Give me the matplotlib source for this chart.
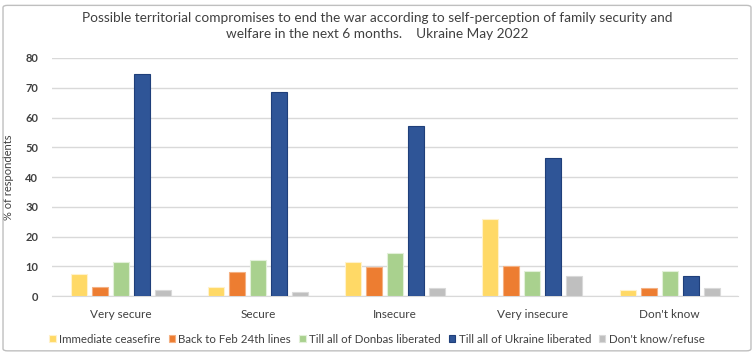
import matplotlib.pyplot as plt
from matplotlib.patches import FancyBboxPatch
import numpy as np

plt.rcParams['font.family'] = ['Lato', 'DejaVu Sans']

groups = ["Very secure", "Secure", "Insecure", "Very insecure", "Don't know"]
series = ["Immediate ceasefire", "Back to Feb 24th lines", "Till all of Donbas liberated",
          "Till all of Ukraine liberated", "Don't know/refuse"]
ceasefire = [7.4, 3.1, 11.6, 26.0, 2.0]
feb24 = [3.1, 8.0, 9.9, 10.1, 2.6]
donbas = [11.6, 12.1, 14.4, 8.5, 8.5]
ukraine = [74.5, 68.5, 57.1, 46.3, 6.8]
dont_know = [2.0, 1.2, 2.6, 6.8, 2.6]
values = [ceasefire, feb24, donbas, ukraine, dont_know]

colors = ['#FFD966', '#ED7D31', '#A9D18E', '#2F5597', '#BFBFBF']
edges = ['#FFF2CC', '#F4B183', '#E2F0D9', '#1F3F7A', '#D9D9D9']

fig = plt.figure(figsize=(7.54, 3.58), dpi=100)
ax = fig.add_axes([0.069, 0.173, 0.910, 0.665])

x = np.arange(len(groups))
w = 0.117
pitch = 0.153
for i, (vals, c, e) in enumerate(zip(values, colors, edges)):
    ax.bar(x + (i - 2) * pitch, vals, width=w, color=c, edgecolor=e,
           linewidth=0.8, label=series[i], zorder=3)

ax.set_xlim(-0.5, len(groups) - 0.5)
ax.set_ylim(0, 80)
ax.set_yticks(range(0, 81, 10))
ax.yaxis.grid(True, color='#D9D9D9', linewidth=1, zorder=0)
ax.set_axisbelow(True)
for s in ['top', 'right', 'left']:
    ax.spines[s].set_visible(False)
ax.spines['bottom'].set_color('#D9D9D9')
ax.tick_params(axis='both', length=0, colors='#404040')
ax.tick_params(axis='y', labelsize=8, pad=10)
ax.tick_params(axis='x', labelsize=8.5, pad=9)
for lbl in ax.get_yticklabels():
    lbl.set_fontweight('bold')
ax.set_xticks(x)
ax.set_xticklabels(groups)
ax.set_ylabel('% of respondents', fontsize=8, color='#404040', labelpad=8)

fig.text(0.5, 0.928, 'Possible territorial compromises to end the war according to self-perception of family security and\n'
         'welfare in the next 6 months.    Ukraine May 2022',
         ha='center', va='center', fontsize=9.8, color='#404040', linespacing=1.35)

ax.legend(loc='center', bbox_to_anchor=(0.5, 0.052), bbox_transform=fig.transFigure,
          ncol=5, frameon=False, fontsize=8.3, handlelength=0.55, handleheight=0.55,
          handletextpad=0.3, columnspacing=0.7, labelcolor='#404040')

border = FancyBboxPatch((0.004, 0.02), 0.992, 0.965, boxstyle='round,pad=0,rounding_size=0.006',
                        transform=fig.transFigure, fill=False, edgecolor='#BFBFBF', linewidth=1)
fig.patches.append(border)

fig.savefig('out.png', dpi=100)
